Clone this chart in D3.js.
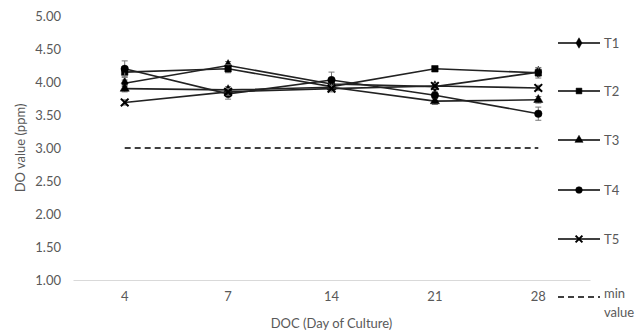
<!DOCTYPE html>
<html lang="en">
<head>
  <meta charset="UTF-8">
  <script src="https://d3js.org/d3.v7.min.js"></script>
  <title>DO value</title>
  <style>
    body { margin: 0; background: #fff; }
    text { font-family: Lato, "Open Sans", sans-serif; fill: #595959; }
  </style>
</head>
<body>
  <svg width="644" height="334"></svg>
<script>
  const days = ["4", "7", "14", "21", "28"];
  const seriesNames = ["T1", "T2", "T3", "T4", "T5"];
  const t1 = [3.98, 4.25, 3.97, 3.93, 4.15];
  const t2 = [4.15, 4.20, 3.93, 4.20, 4.14];
  const t3 = [3.90, 3.88, 3.92, 3.71, 3.73];
  const t4 = [4.20, 3.82, 4.03, 3.80, 3.52];
  const t5 = [3.69, 3.85, 3.90, 3.94, 3.91];
  const errs = [
    [0.05, 0.06, 0.05, 0.04, 0.06],
    [0.08, 0.06, 0.06, 0.04, 0.08],
    [0.05, 0.05, 0.05, 0.05, 0.05],
    [0.12, 0.08, 0.12, 0.05, 0.10],
    [0.04, 0.05, 0.05, 0.04, 0.04]
  ];
  const minValue = 3.0;
  const yTicks = [1, 1.5, 2, 2.5, 3, 3.5, 4, 4.5, 5];

  const allValues = [t1, t2, t3, t4, t5];
  const symbols = [d3.symbolDiamond, d3.symbolSquare, d3.symbolTriangle, d3.symbolCircle, d3.symbolX];
  const symSizes = [40, 42, 36, 44, 40];

  const svg = d3.select("svg");
  const margin = { left: 73, right: 54, top: 16, bottom: 54 };
  const innerW = 644 - margin.left - margin.right;
  const innerH = 334 - margin.top - margin.bottom;

  const chart = svg.append("g")
    .attr("transform", "translate(" + margin.left + "," + margin.top + ")");

  const x = d3.scaleBand().domain(days).range([0, innerW]);
  const y = d3.scaleLinear().domain([1, 5]).range([innerH, 0]);
  const cx = d => x(d) + x.bandwidth() / 2;

  // y labels
  chart.append("g")
    .call(d3.axisLeft(y).tickValues(yTicks).tickFormat(d3.format(".2f")).tickSize(0).tickPadding(12))
    .call(g => g.select(".domain").remove())
    .selectAll("text").style("font-size", "13px").attr("fill", "#595959");

  // x axis
  chart.append("g")
    .attr("transform", "translate(0," + innerH + ")")
    .call(d3.axisBottom(x).tickSize(0).tickPadding(12))
    .call(g => g.select(".domain").attr("stroke", "#d9d9d9"))
    .selectAll("text").style("font-size", "13px").attr("fill", "#595959");

  // min line
  chart.append("line")
    .attr("x1", cx(days[0])).attr("x2", cx(days[days.length - 1]))
    .attr("y1", y(minValue)).attr("y2", y(minValue))
    .attr("stroke", "#000").attr("stroke-width", 1.3)
    .attr("stroke-dasharray", "6,4");

  const line = d3.line().x((d, i) => cx(days[i])).y(d => y(d));

  allValues.forEach((vals, s) => {
    const g = chart.append("g");
    // error bars
    vals.forEach((v, i) => {
      const e = errs[s][i];
      g.append("line").attr("x1", cx(days[i])).attr("x2", cx(days[i]))
        .attr("y1", y(v - e)).attr("y2", y(v + e)).attr("stroke", "#777").attr("stroke-width", 1);
      [v - e, v + e].forEach(w => g.append("line")
        .attr("x1", cx(days[i]) - 3).attr("x2", cx(days[i]) + 3)
        .attr("y1", y(w)).attr("y2", y(w)).attr("stroke", "#777").attr("stroke-width", 1));
    });
    g.append("path").datum(vals)
      .attr("d", line).attr("fill", "none").attr("stroke", "#222").attr("stroke-width", 1.6);
    g.selectAll(".m").data(vals).join("path")
      .attr("transform", (d, i) => "translate(" + cx(days[i]) + "," + y(d) + ")")
      .attr("d", d3.symbol(symbols[s], symSizes[s]))
      .attr("fill", "#000")
      .attr("stroke", "#000")
      .attr("stroke-width", s === 4 ? 2 : 0.5);
  });

  // legend
  const legY = [43, 91, 140, 190, 239];
  const legend = svg.append("g");
  seriesNames.forEach((n, s) => {
    legend.append("line").attr("x1", 558).attr("x2", 600)
      .attr("y1", legY[s]).attr("y2", legY[s]).attr("stroke", "#000").attr("stroke-width", 1.6);
    legend.append("path")
      .attr("transform", "translate(579," + legY[s] + ")")
      .attr("d", d3.symbol(symbols[s], symSizes[s] * 0.8))
      .attr("fill", "#000").attr("stroke", "#000").attr("stroke-width", s === 4 ? 2 : 0.5);
    legend.append("text").attr("x", 604).attr("y", legY[s]).attr("dy", "0.35em")
      .style("font-size", "13px").text(n);
  });
  legend.append("line").attr("x1", 558).attr("x2", 600)
    .attr("y1", 297).attr("y2", 297).attr("stroke", "#000").attr("stroke-width", 1.3)
    .attr("stroke-dasharray", "6,4");
  legend.append("text").attr("x", 604).attr("y", 297).attr("dy", "0.1em")
    .style("font-size", "13px").text("min");
  legend.append("text").attr("x", 604).attr("y", 316).attr("dy", "0.1em")
    .style("font-size", "13px").text("value");

  // axis titles
  svg.append("text")
    .attr("transform", "translate(20," + (margin.top + y(3)) + ") rotate(-90)")
    .attr("text-anchor", "middle").attr("dy", "0.35em")
    .style("font-size", "13px").text("DO value (ppm)");
  svg.append("text")
    .attr("x", margin.left + innerW / 2).attr("y", 323).attr("dy", "0.35em")
    .attr("text-anchor", "middle").style("font-size", "13px").text("DOC (Day of Culture)");
</script>
</body>
</html>
